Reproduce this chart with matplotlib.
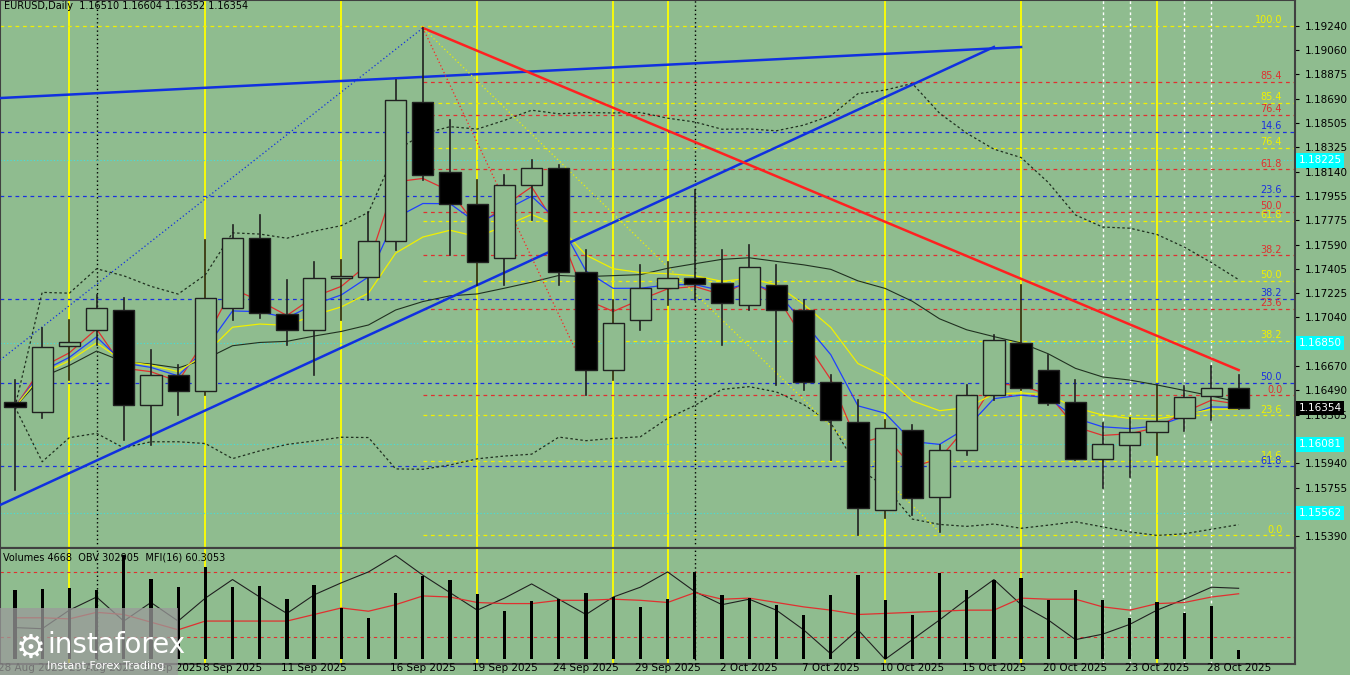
import matplotlib
matplotlib.use("Agg")
import matplotlib.pyplot as plt
import numpy as np
import pandas as pd
from matplotlib.patches import Rectangle

BG = '#8FBC8F'
opens  = [1.16401,1.16326,1.16824,1.16945,1.17096,1.16379,1.16605,1.16484,1.17111,1.17639,1.17066,1.16945,1.17337,1.17345,1.17617,1.18666,1.18138,1.17896,1.17488,1.18040,1.18168,1.17383,1.16643,1.17020,1.17262,1.17337,1.17300,1.17134,1.17285,1.17096,1.16552,1.16250,1.15586,1.16190,1.15684,1.16039,1.16454,1.16847,1.16643,1.16401,1.15971,1.16077,1.16175,1.16281,1.16447,1.16510]
closes = [1.16364,1.16816,1.16854,1.17111,1.16379,1.16605,1.16484,1.17186,1.17639,1.17073,1.16945,1.17337,1.17353,1.17617,1.18681,1.18115,1.17896,1.17458,1.18040,1.18168,1.17383,1.16643,1.16998,1.17262,1.17337,1.17292,1.17149,1.17420,1.17096,1.16552,1.16265,1.15601,1.16205,1.15676,1.16039,1.16454,1.16869,1.16507,1.16394,1.15971,1.16084,1.16175,1.16258,1.16439,1.16507,1.16354]
highs  = [1.16567,1.16960,1.17020,1.17209,1.17186,1.16794,1.16681,1.17624,1.17738,1.17813,1.17322,1.17458,1.17473,1.17836,1.18832,1.19225,1.18530,1.18077,1.18115,1.18228,1.18191,1.17549,1.17171,1.17436,1.17458,1.18002,1.17549,1.17587,1.17436,1.17171,1.16605,1.16416,1.16265,1.16228,1.16077,1.16529,1.16907,1.17285,1.16756,1.16567,1.16243,1.16281,1.16529,1.16522,1.16673,1.16604]
lows   = [1.15737,1.16281,1.16567,1.16832,1.16114,1.16077,1.16303,1.16454,1.17020,1.17035,1.16832,1.16605,1.17020,1.17171,1.17549,1.18077,1.17511,1.17285,1.17285,1.17775,1.17285,1.16454,1.16567,1.16945,1.17134,1.17171,1.16832,1.17096,1.16529,1.16492,1.15963,1.15397,1.15525,1.15548,1.15420,1.16001,1.16416,1.16492,1.16379,1.15963,1.15752,1.15835,1.16001,1.16182,1.16265,1.16352]
volumes = [34200,34700,35200,34200,51300,39500,35600,45400,35600,36100,29800,36600,25400,20500,32700,41000,39000,32200,23900,28800,29800,32700,30700,25900,29800,43000,31700,30300,26800,22000,31700,41500,29300,22000,42500,34200,39000,40000,29300,34200,29300,20500,28300,22900,26400,4668]
mfi = [38,38,37,43,41,34,27,35,35,35,35,41,47,44,50,58,57,52,51,51,54,54,55,54,52,61,55,56,52,48,45,41,42,43,44,45,45,56,55,55,48,45,51,52,57,60]
obv = [29,28,45,57,35,52,35,56,73,57,42,59,70,80,95,77,61,45,56,69,55,41,57,66,80,62,50,55,45,27,5,27,0,18,36,55,73,50,36,18,23,32,45,55,66,65]

date_ticks = [0.6,3.2,5.8,8,11,15,18,21,24,27,30,33,36,39,42,45]
date_labels = ['28 Aug 2025','29 Aug 2025','3 Sep 2025','8 Sep 2025','11 Sep 2025','16 Sep 2025','19 Sep 2025',
               '24 Sep 2025','29 Sep 2025','2 Oct 2025','7 Oct 2025','10 Oct 2025','15 Oct 2025','20 Oct 2025',
               '23 Oct 2025','28 Oct 2025']
price_ticks = [1.19240,1.19060,1.18875,1.18690,1.18505,1.18325,1.18140,1.17955,1.17775,1.17590,1.17405,1.17225,
               1.17040,1.16670,1.16490,1.16305,1.15940,1.15755,1.15390]
fib_levels = [1.19240,1.18817,1.18659,1.18568,1.18440,1.18319,1.18160,1.17957,1.17836,1.17768,1.17511,1.17315,
              1.17179,1.17104,1.16862,1.16545,1.16454,1.16303,1.15956,1.15918,1.15397]
fib_labels = ['100.0','85.4','85.4','76.4','14.6','76.4','61.8','23.6','50.0','61.8','38.2','50.0','38.2','23.6',
              '38.2','50.0','0.0','23.6','14.6','61.8','0.0']
fib_colors = ['y','r','y','r','b','y','r','b','r','y','r','y','b','r','y','b','r','y','y','b','y']
cyan_levels = [1.18225,1.16850,1.16081,1.15562]
yellow_vlines = [2,7,12,17,22,24,32,37,42]
black_vlines = [3,25]
white_vlines = [40,41,43,44]

COL = {'y':'#f0f000','r':'#e03030','b':'#1a30e0'}
n = len(closes)
x = np.arange(n)
XL = (-0.551, 47.06)

fig = plt.figure(figsize=(13.5,6.75), dpi=100, facecolor=BG)
ax = fig.add_axes([0.0, 0.188, 0.959, 0.812], facecolor=BG)
axb = fig.add_axes([0.0, 0.016, 0.959, 0.172], facecolor=BG)
for a in (ax, axb):
    a.set_xlim(*XL)
    for s in a.spines.values():
        s.set_color('#404040'); s.set_linewidth(1.5)
    a.set_xticks([])
    a.yaxis.tick_right()
    a.tick_params(axis='y', labelsize=7.5, length=3, pad=4, colors='black')
    for v in yellow_vlines:
        a.axvline(v, color='#ffff00', lw=1.3, zorder=1)
    for v in black_vlines:
        a.axvline(v, color='black', lw=1, ls=(0,(1,2)), zorder=1)
    for v in white_vlines:
        a.axvline(v, color='white', lw=1, ls=(0,(2,2)), zorder=1)

ax.set_ylim(1.15299, 1.19436)
ax.set_yticks(price_ticks)
ax.set_yticklabels([f'{p:.5f}' for p in price_ticks])

for lvl, lab, c in zip(fib_levels, fib_labels, fib_colors):
    start = XL[0] if (c == 'b' or lab == '100.0') else 15
    ax.plot([start, XL[1]], [lvl, lvl], color=COL[c], lw=0.9, ls=(0,(3,3)), zorder=1)
    ax.text(46.6, lvl + 0.00004, lab, color=COL[c], fontsize=7, ha='right', va='bottom', zorder=5)
for lvl in cyan_levels:
    ax.axhline(lvl, color='#40e0e0', lw=0.8, ls=(0,(1,2)), zorder=1)
    ax.text(1.003, lvl, f'{lvl:.5f}', transform=ax.get_yaxis_transform(), fontsize=7.5, color='white',
            va='center', ha='left', bbox=dict(boxstyle='square,pad=0.2', fc='#00ffff', ec='none'), zorder=6, clip_on=False)
ax.text(1.003, closes[-1], f'{closes[-1]:.5f}', transform=ax.get_yaxis_transform(), fontsize=7.5, color='white',
        va='center', ha='left', bbox=dict(boxstyle='square,pad=0.2', fc='black', ec='none'), zorder=6, clip_on=False)

cs = pd.Series(closes)
mid = cs.rolling(20, min_periods=1).mean()
sd = cs.rolling(20, min_periods=1).std().fillna(0)
ax.plot(x, mid, color='#203020', lw=0.8, zorder=2)
ax.plot(x, mid + 2*sd, color='#203020', lw=0.9, ls=(0,(2,2)), zorder=2)
ax.plot(x, mid - 2*sd, color='#203020', lw=0.9, ls=(0,(2,2)), zorder=2)
ax.plot(x, cs.ewm(span=3).mean(), color='#e03030', lw=0.9, zorder=2)
ax.plot(x, cs.ewm(span=5).mean(), color='#2040ff', lw=0.9, zorder=2)
ax.plot(x, cs.ewm(span=9).mean(), color='#f0f000', lw=0.9, zorder=2)

ax.plot([XL[0], 36.0], [1.15624, 1.19081], color='#1030e0', lw=1.8, zorder=3)
ax.plot([XL[0], 37.0], [1.18696, 1.19081], color='#1030e0', lw=1.8, zorder=3)
ax.plot([15, 45], [1.19225, 1.16643], color='#ff2020', lw=1.8, zorder=3)
ax.plot([15, 21], [1.19225, 1.16628], color='#ff2020', lw=0.9, ls=(0,(1,2)), zorder=3)
ax.plot([15, 34], [1.19225, 1.15420], color='#f0f000', lw=0.9, ls=(0,(1,2)), zorder=3)
ax.plot([XL[0], 15], [1.16718, 1.19225], color='#1030e0', lw=0.9, ls=(0,(1,2)), zorder=3)

w = 0.78
for i in range(n):
    o, c, h, l = opens[i], closes[i], highs[i], lows[i]
    ax.plot([i, i], [l, h], color='#202020', lw=1.2, zorder=4)
    bull = c >= o
    ax.add_patch(Rectangle((i - w/2, min(o, c)), w, max(abs(c - o), 0.00003),
                           facecolor=BG if bull else 'black', edgecolor='#202020', lw=1, zorder=5))

ax.text(0.003, 0.998, 'EURUSD,Daily  1.16510 1.16604 1.16352 1.16354', transform=ax.transAxes,
        fontsize=7, va='top', ha='left', color='black')

axb.set_ylim(-4.5, 101.8)
axb.set_yticks([0, 20, 80, 97.3])
axb.set_yticklabels(['0', '20', '80', '52234'])
axb.axhline(80, color='#e03030', lw=0.8, ls=(0,(3,3)))
axb.axhline(20, color='#e03030', lw=0.8, ls=(0,(3,3)))
axv = axb.twinx()
axv.set_ylim(-4.5/97.3*52234, 101.8/97.3*52234)
axv.set_yticks([]); axv.set_xlim(*XL)
for s in axv.spines.values(): s.set_visible(False)
axv.bar(x, volumes, width=0.12, color='black', zorder=2)
axb.plot(x, obv, color='#202020', lw=0.8, zorder=3)
axb.plot(x, mfi, color='#e03030', lw=0.9, zorder=3)
axb.text(0.002, 0.96, 'Volumes 4668  OBV 302905  MFI(16) 60.3053', transform=axb.transAxes, fontsize=7,
         va='top', ha='left', color='black')

for t, lab in zip(date_ticks, date_labels):
    xf = (t - XL[0]) / (XL[1] - XL[0]) * 0.959
    fig.text(xf, 0.003, lab, fontsize=7.5, ha='center', va='bottom', color='black')

fig.patches.append(Rectangle((0, 0), 0.132, 0.1, transform=fig.transFigure, facecolor='#9a9a9a',
                             alpha=0.75, edgecolor='none', zorder=10))
fig.text(0.035, 0.045, 'instaforex', fontsize=20, color='white', ha='left', va='center', zorder=11)
fig.text(0.035, 0.013, 'Instant Forex Trading', fontsize=8, color='white', ha='left', va='center', zorder=11)
fig.text(0.012, 0.04, '⚙', fontsize=24, color='white', ha='left', va='center', zorder=11)

fig.savefig('out.png', dpi=100, facecolor=BG)
